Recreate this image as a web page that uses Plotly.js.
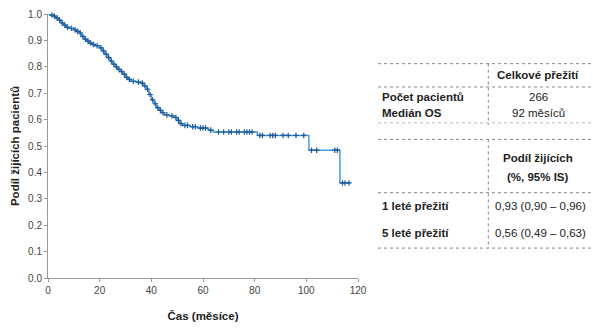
<!DOCTYPE html>
<html><head><meta charset="utf-8">
<script src="https://cdn.plot.ly/plotly-3.0.1.min.js"></script>
<style>html,body{margin:0;padding:0;background:#fff}#chart{width:593px;height:331px}</style>
</head><body><div id="chart"></div>
<script>
// Kaplan–Meier step curve (months, survival)
const stepTimes = [0,1,2,3,4,5,6,7,8,10,11,12,13,14,15,16,17,18,20,21,22,23,24,25,26,27,28,29,30,31,32,34,36,37,38,39,40,41,42,43,44,45,47,49,50,51,52,55,58,62,64,81,101,113,117];
const stepSurv  = [1.0,0.996,0.992,0.985,0.977,0.966,0.958,0.950,0.946,0.940,0.934,0.928,0.915,0.905,0.897,0.890,0.885,0.880,0.872,0.860,0.848,0.835,0.822,0.810,0.800,0.790,0.782,0.772,0.760,0.752,0.745,0.742,0.738,0.728,0.715,0.695,0.675,0.660,0.645,0.635,0.626,0.618,0.614,0.608,0.597,0.585,0.578,0.573,0.568,0.560,0.553,0.540,0.484,0.360,0.360];
// censored observations
const censTimes = [1.5,2.5,3.5,4.5,5.5,6.5,7.5,9,10.5,11.5,12.5,13.5,14.5,15.5,16.5,17.5,19,20.5,21.5,22.5,23.5,24.5,25.5,26.5,27.5,28.5,29.5,30.5,31.5,33,35,36.5,37.5,38.5,39.5,40.5,41.5,42.5,43.5,44.5,46,48,49.5,50.5,51.5,53,54,56,57,59,60,61,63,66,68,70,71,73,74,76,77,78,79,82,83,86,87,88,91,93,96,99,102,104,111,112,114,115,116.5];
const censSurv  = [0.996,0.992,0.985,0.977,0.966,0.958,0.950,0.946,0.940,0.934,0.928,0.915,0.905,0.897,0.890,0.885,0.880,0.872,0.860,0.848,0.835,0.822,0.810,0.800,0.790,0.782,0.772,0.760,0.752,0.745,0.742,0.738,0.728,0.715,0.695,0.675,0.660,0.645,0.635,0.626,0.618,0.614,0.608,0.597,0.585,0.578,0.578,0.573,0.573,0.568,0.568,0.568,0.560,0.553,0.553,0.553,0.553,0.553,0.553,0.553,0.553,0.553,0.553,0.540,0.540,0.540,0.540,0.540,0.540,0.540,0.540,0.540,0.484,0.484,0.484,0.484,0.360,0.360,0.360];
const xTicks = [0,20,40,60,80,100,120];
const yTicks = [0,0.1,0.2,0.3,0.4,0.5,0.6,0.7,0.8,0.9,1.0];
const yTickText = ["0.0","0.1","0.2","0.3","0.4","0.5","0.6","0.7","0.8","0.9","1.0"];
// table texts
const tableHeader1 = "Celkové přežití";
const tableRows1 = [["Počet pacientů","266"],["Medián OS","92 měsíců"]];
const tableHeader2 = ["Podíl žijících","(%, 95% IS)"];
const tableRows2 = [["1 leté přežití","0,93 (0,90 – 0,96)"],["5 leté přežití","0,56 (0,49 – 0,63)"]];

const L=48, R=358, T=13.5, B=278.3;
const px = x => (x-L)/(R-L);
const py = y => (B-y)/(B-T);
const font = "Liberation Sans, Arial, sans-serif";

const traces = [
 {x: stepTimes, y: stepSurv, type:'scatter', mode:'lines', line:{shape:'hv', color:'#4a9ad8', width:1.5}, hoverinfo:'skip', cliponaxis:false},
 {x: censTimes, y: censSurv, type:'scatter', mode:'markers', marker:{symbol:'cross-thin', size:4, line:{color:'#1d5a9c', width:1.2}, color:'#1d5a9c'}, cliponaxis:false}
];

const shapes = [];
const dl = (x0,y0,x1,y1,c) => shapes.push({type:'line', xref:'paper', yref:'paper', x0:px(x0), y0:py(y0), x1:px(x1), y1:py(y1), line:{color:c||'#888', width:1, dash:'dot'}});
dl(378,63.3,593,63.3);
dl(378,86.7,593,86.7);
dl(378,122.7,593,122.7,'#bbb');
dl(378,139.3,593,139.3);
dl(378,192.7,593,192.7);
dl(378,248.3,593,248.3);
dl(488.3,63.3,488.3,125);
dl(488.3,139.3,488.3,248.3);

const ann = [];
const tx = (x,y,t,bold,anchor) => ann.push({xref:'paper', yref:'paper', x:px(x), y:py(y), text: bold?('<b>'+t+'</b>'):t, showarrow:false, xanchor:anchor||'center', yanchor:'middle', font:{family:font, size:11.5, color:'#222'}});
tx(538,75,tableHeader1,true);
tx(380,96.7,tableRows1[0][0],true,'left'); tx(538,96.7,tableRows1[0][1],false);
tx(380,113.3,tableRows1[1][0],true,'left'); tx(538,113.3,tableRows1[1][1],false);
tx(538,158.3,tableHeader2[0],true); tx(538,177.2,tableHeader2[1],true);
tx(380,206,tableRows2[0][0],true,'left'); tx(540.5,206,tableRows2[0][1],false);
tx(380,233.3,tableRows2[1][0],true,'left'); tx(540.5,233.3,tableRows2[1][1],false);

const layout = {
 width:593, height:331, showlegend:false,
 margin:{l:L, r:593-R, t:T, b:331-B},
 paper_bgcolor:'#fff', plot_bgcolor:'#fff',
 xaxis:{range:[0,120], tickvals:xTicks, ticks:'outside', ticklen:3, tickcolor:'#999', showline:true, linecolor:'#999', linewidth:1, showgrid:false, zeroline:false,
   tickfont:{family:font, size:10, color:'#444'},
   title:{text:'<b>Čas (měsíce)</b>', font:{family:font, size:11.5, color:'#222'}, standoff:16}},
 yaxis:{range:[0,1.0], tickvals:yTicks, ticktext:yTickText, ticks:'outside', ticklen:3, tickcolor:'#999', showline:true, linecolor:'#999', linewidth:1, showgrid:false, zeroline:false,
   tickfont:{family:font, size:10, color:'#444'},
   title:{text:'<b>Podíl žijících pacientů</b>', font:{family:font, size:11.5, color:'#222'}, standoff:6}},
 shapes: shapes, annotations: ann
};
Plotly.newPlot('chart', traces, layout, {displayModeBar:false, staticPlot:true});
</script></body></html>
